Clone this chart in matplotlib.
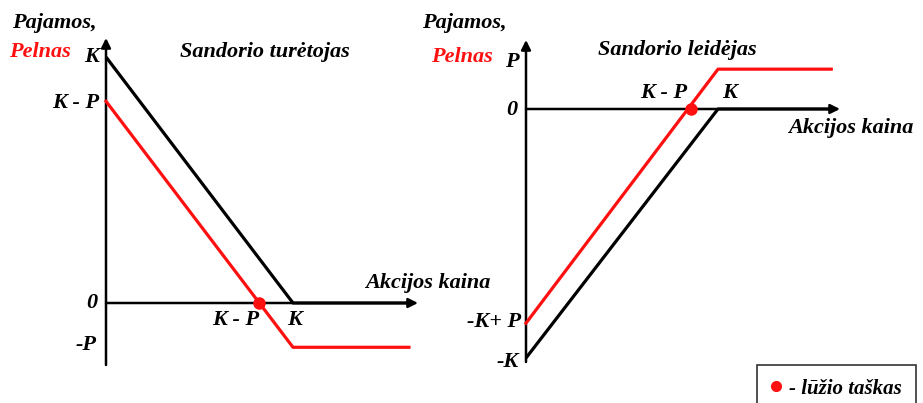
import numpy as np
import matplotlib.pyplot as plt
from matplotlib.lines import Line2D

# payoff diagrams in units of K (K = 1)
holder_price = [0.0, 1.0, 1.62]
holder_income = [1.0, 0.0, 0.0]
holder_profit = [0.82, -0.18, -0.18]
holder_breakeven = (0.82, 0.0)

writer_price = [0.0, 1.0, 1.59]
writer_income = [-1.0, 0.0, 0.0]
writer_profit = [-0.86, 0.16, 0.16]
writer_breakeven = (0.86, 0.0)

W, H = 923, 403
RED = '#ff1010'
FS = 16
plt.rcParams['font.family'] = ['Liberation Serif', 'DejaVu Serif']

fig = plt.figure(figsize=(W / 100, H / 100), dpi=100)
fig.patch.set_facecolor('white')


def px(x, y):
    return x / W, 1 - y / H


def ftext(x, y, s, ha='left', color='black', size=FS):
    fx, fy = px(x, y)
    fig.text(fx, fy, s, ha=ha, va='center', color=color, fontsize=size,
             fontweight='bold', fontstyle='italic')


# left panel: origin at pixel (106, 303), K = 187 px in x, 246 px in y
axL = fig.add_axes([0, 0, 461 / W, 1])
axL.set_xlim(-106 / 187, (461 - 106) / 187)
axL.set_ylim(-(403 - 303) / 246, 303 / 246)
# right panel: origin at pixel (526, 109), K = 192 px in x, 249 px in y
axR = fig.add_axes([461 / W, 0, 462 / W, 1])
axR.set_xlim(-(526 - 461) / 192, (923 - 526) / 192)
axR.set_ylim(-(403 - 109) / 249, 109 / 249)

for ax in (axL, axR):
    ax.axis('off')

# axes with arrows
arw = dict(arrowstyle='-|>', color='black', lw=1.8, mutation_scale=14, shrinkA=0, shrinkB=0)
axL.annotate('', xy=(0, (303 - 38) / 246), xytext=(0, -(365 - 303) / 246), arrowprops=arw)
axL.annotate('', xy=((418 - 106) / 187, 0), xytext=(0, 0), arrowprops=arw)
axR.annotate('', xy=(0, (109 - 40) / 249), xytext=(0, -(362 - 109) / 249), arrowprops=arw)
axR.annotate('', xy=((840 - 526) / 192, 0), xytext=(0, 0), arrowprops=arw)

axL.plot(holder_price, holder_income, color='black', lw=2.3, solid_capstyle='butt', zorder=3)
axL.plot(holder_price, holder_profit, color=RED, lw=2.3, zorder=3)
axL.plot(*holder_breakeven, 'o', color=RED, ms=8, zorder=4)

axR.plot(writer_price, writer_income, color='black', lw=2.3, solid_capstyle='butt', zorder=3)
axR.plot(writer_price, writer_profit, color=RED, lw=2.3, zorder=3)
axR.plot(*writer_breakeven, 'o', color=RED, ms=8, zorder=4)

# left labels
ftext(12, 23, 'Pajamos,')
ftext(9, 52, 'Pelnas', color=RED)
ftext(99, 57, 'K', ha='right')
ftext(99, 103, 'K - P', ha='right')
ftext(97, 303, '0', ha='right')
ftext(97, 345, '-P', ha='right')
ftext(259, 320, 'K - P', ha='right')
ftext(287, 320, 'K')
ftext(180, 52, 'Sandorio turėtojas')
ftext(365, 283, 'Akcijos kaina')

# right labels
ftext(422, 23, 'Pajamos,')
ftext(431, 57, 'Pelnas', color=RED)
ftext(519, 62, 'P', ha='right')
ftext(598, 50, 'Sandorio leidėjas')
ftext(640, 93, 'K - P')
ftext(722, 93, 'K')
ftext(517, 110, '0', ha='right')
ftext(788, 128, 'Akcijos kaina')
ftext(521, 322, '-K+ P', ha='right')
ftext(519, 362, '-K', ha='right')

# legend box, partly cut by the bottom edge
handle = Line2D([], [], marker='o', color=RED, ls='none', ms=7)
leg = fig.legend([handle], ['- lūžio taškas'], loc='upper left',
                 bbox_to_anchor=px(757, 365), borderaxespad=0, frameon=True, fancybox=False,
                 handlelength=0.5, handletextpad=0.4, borderpad=0.65,
                 prop=dict(family='Liberation Serif', weight='bold', style='italic', size=15))
leg.get_frame().set_edgecolor('black')
leg.get_frame().set_linewidth(1.2)

fig.savefig('out.png', dpi=100)
